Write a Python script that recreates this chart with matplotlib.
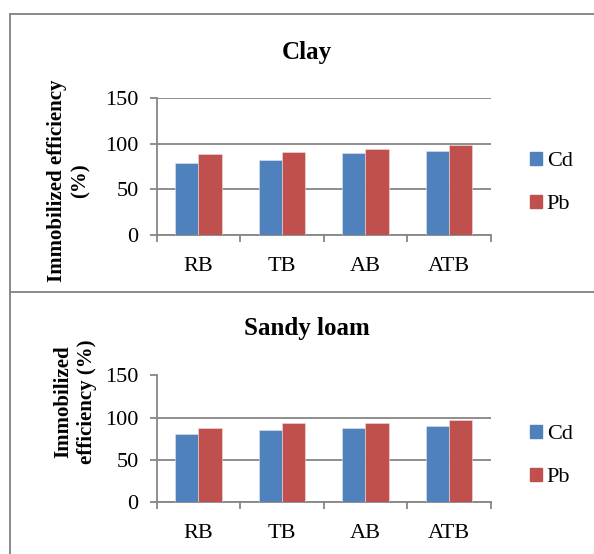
import matplotlib
matplotlib.use("Agg")
import matplotlib.pyplot as plt
import numpy as np
from matplotlib.lines import Line2D
from matplotlib.patches import Patch

categories = ["RB", "TB", "AB", "ATB"]
series = ["Cd", "Pb"]
clay_cd = [79.3, 81.9, 90.0, 91.7]
clay_pb = [88.9, 91.5, 94.1, 98.9]
sandy_cd = [81.0, 85.8, 87.7, 90.0]
sandy_pb = [88.1, 93.2, 94.1, 97.0]

W, H = 594, 554
BLUE = "#4F81BD"
RED = "#C0504D"
GRID = "#868686"

plt.rcParams["font.family"] = ["Liberation Serif", "DejaVu Serif"]

fig = plt.figure(figsize=(W / 100, H / 100), dpi=100)


def fx(x):
    return x / W


def fy(y):
    return 1 - y / H


def panel(top, bottom, cd, pb, title, title_y, ylabel, ylab_x, ylab_y, leg_y):
    ax = fig.add_axes([fx(156.7), fy(bottom), fx(490.7 - 156.7), (bottom - top) / H])
    x = np.arange(len(categories))
    w = 0.28
    ax.bar(x - w / 2, cd, w, color=BLUE, edgecolor="#dfe6f0", linewidth=0.4, zorder=3, label=series[0])
    ax.bar(x + w / 2, pb, w, color=RED, edgecolor="#f0dede", linewidth=0.4, zorder=3, label=series[1])
    ax.set_xlim(-0.5, len(categories) - 0.5)
    ax.set_ylim(0, 150)
    ax.set_yticks([0, 50, 100, 150])
    ax.yaxis.grid(True, color=GRID, linewidth=1.3, zorder=0)
    ax.set_axisbelow(True)
    for s in ["top", "right"]:
        ax.spines[s].set_visible(False)
    for s in ["left", "bottom"]:
        ax.spines[s].set_color(GRID)
        ax.spines[s].set_linewidth(1.3)
    # boundary ticks between categories, labels at category centres
    ax.set_xticks(np.arange(len(categories) + 1) - 0.5)
    ax.set_xticklabels([])
    ax.set_xticks(x, minor=True)
    ax.set_xticklabels(categories, minor=True, fontsize=16)
    ax.tick_params(axis="x", which="major", length=5, width=1.3, color=GRID, direction="out")
    ax.tick_params(axis="x", which="minor", length=0, pad=16)
    ax.tick_params(axis="y", length=5, width=1.3, color=GRID, labelsize=16, pad=8)
    fig.text(fx(307), fy(title_y), title, fontsize=18, fontweight="bold", ha="center", va="center")
    fig.text(fx(ylab_x), fy(ylab_y), ylabel, fontsize=15, fontweight="bold", rotation=90,
             ha="center", va="center", multialignment="center", linespacing=1.25)
    handles = [Patch(color=BLUE), Patch(color=RED)]
    fig.legend(handles, series, loc="center left", bbox_to_anchor=(fx(530), fy(leg_y)),
               frameon=False, fontsize=16, handlelength=0.55, handleheight=0.55,
               handletextpad=0.2, labelspacing=1.05, borderpad=0, borderaxespad=0)
    return ax


panel(98.3, 235, clay_cd, clay_pb, "Clay", 52, "Immobilized efficiency\n(%)", 68.5, 181, 183)
panel(375.5, 502, sandy_cd, sandy_pb, "Sandy loam", 328, "Immobilized\nefficiency (%)", 75, 402, 456)

# chart borders
bc = "#898989"
fig.add_artist(Line2D([fx(10), 1], [fy(14), fy(14)], color=bc, linewidth=1.4))
fig.add_artist(Line2D([fx(10), 1], [fy(292), fy(292)], color=bc, linewidth=1.4))
fig.add_artist(Line2D([fx(10), fx(10)], [fy(14), 0], color=bc, linewidth=1.4))

fig.savefig("out.png", dpi=100)
